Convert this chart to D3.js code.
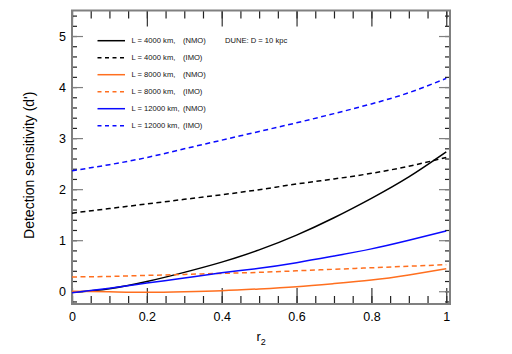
<!DOCTYPE html>
<html lang="en">
<head>
	<meta charset="UTF-8">
	<title>Detection sensitivity</title>
	<script src="https://cdn.jsdelivr.net/npm/d3@7"></script>
	<style>
		body {
			margin: 0;
			background-color: #ffffff;
		}
		svg {
			font-family: "Liberation Sans", Arial, sans-serif;
		}
		.tick text {
			font-size: 12.5px;
			fill: #000;
		}
		.legend {
			font-size: 7.6px;
			fill: #111;
		}
	</style>
</head>
<body>
<script>

	// r2 sample points and detection sensitivity d'
	var r2 = [0, 0.1, 0.2, 0.3, 0.4, 0.5, 0.6, 0.7, 0.8, 0.9, 1.0];

	var L4000_NMO  = [-0.02, 0.05, 0.19, 0.37, 0.57, 0.81, 1.10, 1.44, 1.82, 2.24, 2.73];
	var L4000_IMO  = [1.53, 1.62, 1.71, 1.80, 1.89, 1.99, 2.10, 2.20, 2.31, 2.45, 2.62];
	var L8000_NMO  = [0.00, -0.01, -0.02, -0.01, 0.01, 0.045, 0.09, 0.15, 0.22, 0.32, 0.44];
	var L8000_IMO  = [0.28, 0.29, 0.31, 0.33, 0.35, 0.37, 0.40, 0.43, 0.46, 0.49, 0.52];
	var L12000_NMO = [-0.03, 0.06, 0.16, 0.26, 0.36, 0.45, 0.56, 0.69, 0.83, 1.00, 1.18];
	var L12000_IMO = [2.36, 2.48, 2.62, 2.79, 2.96, 3.13, 3.30, 3.48, 3.67, 3.89, 4.17];

	var seriesNames = ['L = 4000 km,', 'L = 4000 km,', 'L = 8000 km,', 'L = 8000 km,', 'L = 12000 km,', 'L = 12000 km,'];
	var orderings = ['(NMO)', '(IMO)', '(NMO)', '(IMO)', '(NMO)', '(IMO)'];
	var colors = ['#000000', '#000000', '#ff6f1f', '#ff6f1f', '#0a0aff', '#0a0aff'];
	var dashed = [false, true, false, true, false, true];
	var values = [L4000_NMO, L4000_IMO, L8000_NMO, L8000_IMO, L12000_NMO, L12000_IMO];

	var xMajor = [0, 0.2, 0.4, 0.6, 0.8, 1];
	var xMinor = d3.range(0, 1.0001, 0.05);
	var yMajor = [0, 1, 2, 3, 4, 5];
	var yMinor = d3.range(-0.2, 5.5, 0.2);

	var margin = {top: 10.5, bottom: 50, left: 72, right: 62};
	var width = 512 - margin.left - margin.right,
			height = 354 - margin.top - margin.bottom;

	var svg = d3.select('body').append('svg')
		.attr('width', 512)
		.attr('height', 354)
		.append('g')
		.attr('transform', 'translate(' + margin.left + ',' + margin.top + ')');

	var x = d3.scaleLinear().domain([0, 1.01]).range([0, width]);
	var y = d3.scaleLinear().domain([-0.25, 5.5]).range([height, 0]);

	var fmt = d3.format('~g');

	function styleAxis(g, color) {
		g.select('.domain').remove();
		g.selectAll('.tick line').attr('stroke', color).attr('stroke-width', 1.2);
	}

	// minor ticks (no labels)
	svg.append('g').attr('transform', 'translate(0,' + height + ')')
		.call(d3.axisBottom(x).tickValues(xMinor).tickSize(-8).tickFormat(''))
		.call(styleAxis, '#222');
	svg.append('g')
		.call(d3.axisTop(x).tickValues(xMinor).tickSize(-8).tickFormat(''))
		.call(styleAxis, '#222');
	svg.append('g')
		.call(d3.axisLeft(y).tickValues(yMinor).tickSize(-5).tickFormat(''))
		.call(styleAxis, '#222');
	svg.append('g').attr('transform', 'translate(' + width + ',0)')
		.call(d3.axisRight(y).tickValues(yMinor).tickSize(-5).tickFormat(''))
		.call(styleAxis, '#222');

	// major ticks
	svg.append('g').attr('transform', 'translate(0,' + height + ')')
		.call(d3.axisBottom(x).tickValues(xMajor).tickSize(-16).tickPadding(8).tickFormat(fmt))
		.call(styleAxis, '#333');
	svg.append('g')
		.call(d3.axisTop(x).tickValues(xMajor).tickSize(-16).tickFormat(''))
		.call(styleAxis, '#333');
	svg.append('g')
		.call(d3.axisLeft(y).tickValues(yMajor).tickSize(-11).tickPadding(6).tickFormat(fmt))
		.call(styleAxis, '#808080');
	svg.append('g').attr('transform', 'translate(' + width + ',0)')
		.call(d3.axisRight(y).tickValues(yMajor).tickSize(-11).tickFormat(''))
		.call(styleAxis, '#808080');

	svg.selectAll('.tick text').style('font-family', '"Liberation Sans", Arial, sans-serif');

	// frame
	svg.append('rect')
		.attr('width', width)
		.attr('height', height)
		.attr('fill', 'none')
		.attr('stroke', '#808080')
		.attr('stroke-width', 2);

	// curves
	var line = d3.line()
		.x(function (d) { return x(d[0]); })
		.y(function (d) { return y(d[1]); })
		.curve(d3.curveNatural);

	values.forEach(function (vals, i) {
		svg.append('path')
			.datum(r2.map(function (r, j) { return [r, vals[j]]; }))
			.attr('d', line)
			.attr('fill', 'none')
			.attr('stroke', colors[i])
			.attr('stroke-width', 1.5)
			.attr('stroke-dasharray', dashed[i] ? '5,3.5' : null);
	});

	// legend
	var legend = svg.selectAll('.legendrow')
		.data(seriesNames)
		.enter()
		.append('g')
		.attr('transform', function (d, i) {
			return 'translate(' + (97.5 - margin.left) + ',' + (40.7 - margin.top + i * 17) + ')';
		});

	legend.append('line')
		.attr('x1', 0).attr('x2', 27.5)
		.attr('stroke', function (d, i) { return colors[i]; })
		.attr('stroke-width', 1.5)
		.attr('stroke-dasharray', function (d, i) { return dashed[i] ? '4,3.5' : null; });

	legend.append('text')
		.attr('class', 'legend')
		.attr('x', 34)
		.attr('dy', '0.35em')
		.text(function (d) { return d; });

	legend.append('text')
		.attr('class', 'legend')
		.attr('x', 85.5)
		.attr('dy', '0.35em')
		.text(function (d, i) { return orderings[i]; });

	svg.append('text')
		.attr('class', 'legend')
		.attr('x', 225 - margin.left)
		.attr('y', 40.7 - margin.top)
		.attr('dy', '0.35em')
		.text('DUNE: D = 10 kpc');

	// axis titles
	svg.append('text')
		.attr('transform', 'translate(' + (33.5 - margin.left) + ',' + (height / 2 + 8) + ') rotate(-90)')
		.style('text-anchor', 'middle')
		.style('font-size', '14px')
		.text("Detection sensitivity (d')");

	var xt = svg.append('text')
		.attr('x', 256.5 - margin.left)
		.attr('y', 341 - margin.top)
		.style('font-size', '13px')
		.text('r');
	xt.append('tspan')
		.attr('dy', 3.5)
		.style('font-size', '9px')
		.text('2');
</script>
</body>
</html>
